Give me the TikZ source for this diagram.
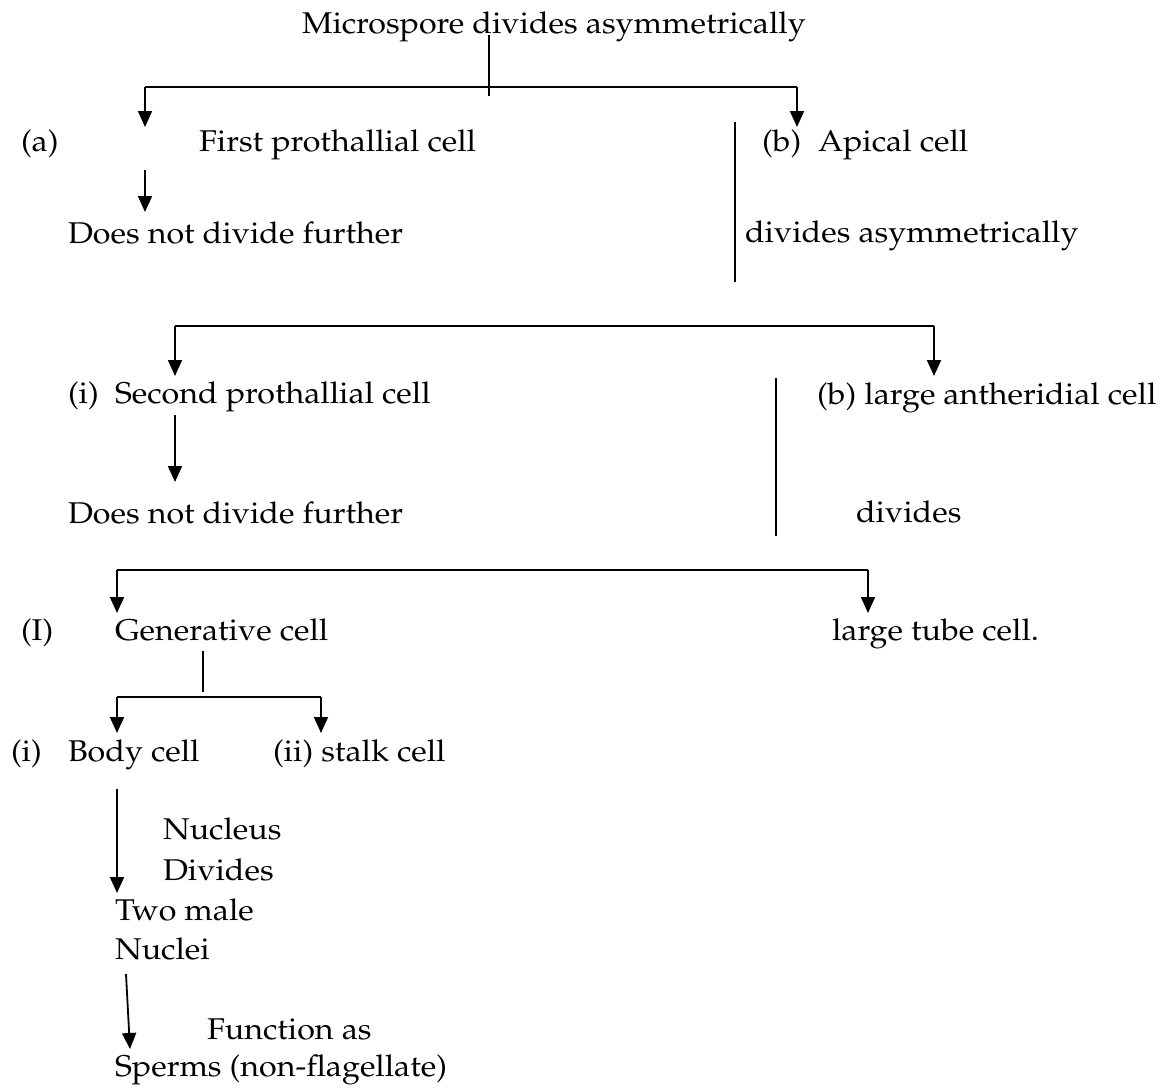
\documentclass[tikz,border=0pt]{standalone}
\usepackage[T1]{fontenc}
\usepackage{mathpazo}
\usetikzlibrary{arrows.meta}
\tikzset{
  lbl/.style={anchor=base west, inner sep=0pt, outer sep=0pt, xscale=1.075, transform shape, font=\fontsize{30}{41}\selectfont},
  conn/.style={line width=1.8pt},
  arr/.style={line width=1.8pt, -{Triangle[length=16pt,width=14pt]}}
}
\begin{document}
\begin{tikzpicture}[x=1pt,y=-1pt]
\useasboundingbox (0,0) rectangle (1168,1088);
% texts
\node[lbl] (title) at (302,33) {Microspore divides asymmetrically};
\node[lbl] (la) at (21,151) {(a)};
\node[lbl] (fpc) at (199,151) {First prothallial cell};
\node[lbl] (lb) at (762,151) {(b)};
\node[lbl] (apical) at (818,151) {Apical cell};
\node[lbl] (dnd1) at (68,243) {Does not divide further};
\node[lbl] (dasym) at (745,242) {divides asymmetrically};
\node[lbl] (li) at (68,403) {(i)};
\node[lbl] (spc) at (115,403) {Second prothallial cell};
\node[lbl] (lac) at (817,404) {(b) large antheridial cell};
\node[lbl] (dnd2) at (68,523) {Does not divide further};
\node[lbl] (divides) at (856,522) {divides};
\node[lbl] (lI) at (21,640) {(I)};
\node[lbl] (gen) at (115,640) {Generative cell};
\node[lbl] (ltc) at (832,640) {large tube cell.};
\node[lbl] (lii) at (11,761) {(i)};
\node[lbl] (body) at (68,761) {Body cell};
\node[lbl] (stalk) at (273,761) {(ii) stalk cell};
\node[lbl] (nuc) at (163,839) {Nucleus};
\node[lbl] (ndiv) at (163,880) {Divides};
\node[lbl] (two) at (115,920) {Two male};
\node[lbl] (nuclei) at (115,959) {Nuclei};
\node[lbl] (func) at (207,1039) {Function as};
\node[lbl] (sperm) at (115,1076) {Sperms (non-flagellate)};
% junction coordinates
\coordinate (t1) at (489,35);
\coordinate (t1b) at (489,96);
\coordinate (h1l) at (145,87);
\coordinate (h1r) at (797,87);
\coordinate (a1l) at (145,127);
\coordinate (a1r) at (797,127);
\coordinate (v1t) at (735,122);
\coordinate (v1b) at (735,282);
\coordinate (a2s) at (145,170);
\coordinate (a2e) at (145,212);
\coordinate (h2l) at (175,326);
\coordinate (h2r) at (934,326);
\coordinate (a3l) at (175,376);
\coordinate (a3r) at (934,376);
\coordinate (a4s) at (175,415);
\coordinate (a4e) at (175,482);
\coordinate (v2t) at (776,378);
\coordinate (v2b) at (776,536);
\coordinate (h3l) at (117,570);
\coordinate (h3r) at (868,570);
\coordinate (a5l) at (117,613);
\coordinate (a5r) at (868,613);
\coordinate (v3t) at (203,651);
\coordinate (v3b) at (203,692);
\coordinate (h4l) at (117,697);
\coordinate (h4r) at (321,697);
\coordinate (a6l) at (117,733);
\coordinate (a6r) at (321,733);
\coordinate (a7s) at (117,789);
\coordinate (a7e) at (117,893);
\coordinate (a8s) at (126,974);
\coordinate (a8e) at (130,1049);
% connectors
\draw[conn] (t1) -- (t1b);
\draw[conn] (h1l) -- (h1r);
\draw[arr] (h1l) -- (a1l);
\draw[arr] (h1r) -- (a1r);
\draw[conn] (v1t) -- (v1b);
\draw[arr] (a2s) -- (a2e);
\draw[conn] (h2l) -- (h2r);
\draw[arr] (h2l) -- (a3l);
\draw[arr] (h2r) -- (a3r);
\draw[arr] (a4s) -- (a4e);
\draw[conn] (v2t) -- (v2b);
\draw[conn] (h3l) -- (h3r);
\draw[arr] (h3l) -- (a5l);
\draw[arr] (h3r) -- (a5r);
\draw[conn] (v3t) -- (v3b);
\draw[conn] (h4l) -- (h4r);
\draw[arr] (h4l) -- (a6l);
\draw[arr] (h4r) -- (a6r);
\draw[arr] (a7s) -- (a7e);
\draw[arr] (a8s) -- (a8e);
\end{tikzpicture}
\end{document}
